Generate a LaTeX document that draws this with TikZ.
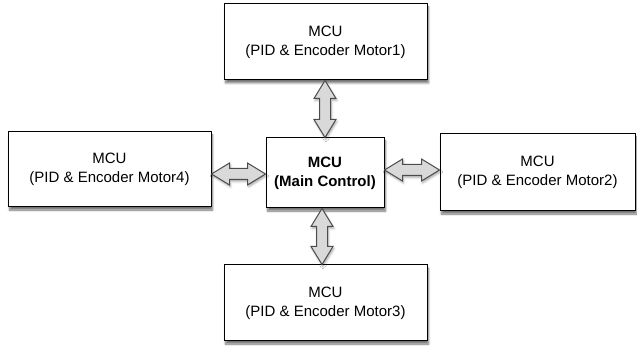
\documentclass[tikz,border=0pt]{standalone}
\usepackage{fontspec}
\setmainfont{Liberation Sans}
\usetikzlibrary{calc,shadows.blur}
\newcommand\mydblarrow[2]{%
  \filldraw[arr]
    (#1)
    -- ($(#1)!18pt!(#2)!11pt!90:(#2)$)
    -- ($(#1)!18pt!(#2)!5.5pt!90:(#2)$)
    -- ($(#2)!18pt!(#1)!5.5pt!-90:(#1)$)
    -- ($(#2)!18pt!(#1)!11pt!-90:(#1)$)
    -- (#2)
    -- ($(#2)!18pt!(#1)!11pt!90:(#1)$)
    -- ($(#2)!18pt!(#1)!5.5pt!90:(#1)$)
    -- ($(#1)!18pt!(#2)!5.5pt!-90:(#2)$)
    -- ($(#1)!18pt!(#2)!11pt!-90:(#2)$)
    -- cycle;}
\begin{document}
\begin{tikzpicture}[x=1pt,y=-1pt,
  box/.style={draw=black, line width=1pt, fill=white, rectangle,
    align=center, inner sep=0pt,
    font=\fontsize{15}{19}\selectfont,
    blur shadow={shadow xshift=1.5pt, shadow yshift=-3pt, shadow blur steps=6, shadow opacity=55}},
  arr/.style={draw=black!70, fill=black!15, line width=1pt, line join=miter,
    blur shadow={shadow xshift=1pt, shadow yshift=-2pt, shadow blur steps=4, shadow opacity=35}}]
\useasboundingbox (0,0) rectangle (637,352);
\node[box, minimum width=203pt, minimum height=76pt] (top) at (325.5,42) {MCU\\(PID \& Encoder Motor1)};
\node[box, minimum width=203pt, minimum height=75pt] (left) at (109.5,169.5) {MCU\\(PID \& Encoder Motor4)};
\node[box, minimum width=118pt, minimum height=70pt, font=\fontsize{15}{19}\selectfont\bfseries] (main) at (325,173) {MCU\\(Main Control)};
\node[box, minimum width=195pt, minimum height=77pt] (right) at (537.5,172.5) {MCU\\(PID \& Encoder Motor2)};
\node[box, minimum width=203pt, minimum height=76pt] (bot) at (325.5,303) {MCU\\(PID \& Encoder Motor3)};
\coordinate (t1) at (top.south -| main.north);
\coordinate (l1) at ([yshift=-1pt]main.west -| left.east);
\coordinate (l2) at ([yshift=-1pt]main.west);
\coordinate (r1) at ([yshift=3pt]main.east);
\coordinate (r2) at ([yshift=3pt]main.east -| right.west);
\coordinate (b1) at ([xshift=-3pt]main.south);
\coordinate (b2) at ([xshift=-3pt]main.south |- bot.north);
\mydblarrow{t1}{main.north}
\mydblarrow{l1}{l2}
\mydblarrow{r1}{r2}
\mydblarrow{b1}{b2}
\end{tikzpicture}
\end{document}
